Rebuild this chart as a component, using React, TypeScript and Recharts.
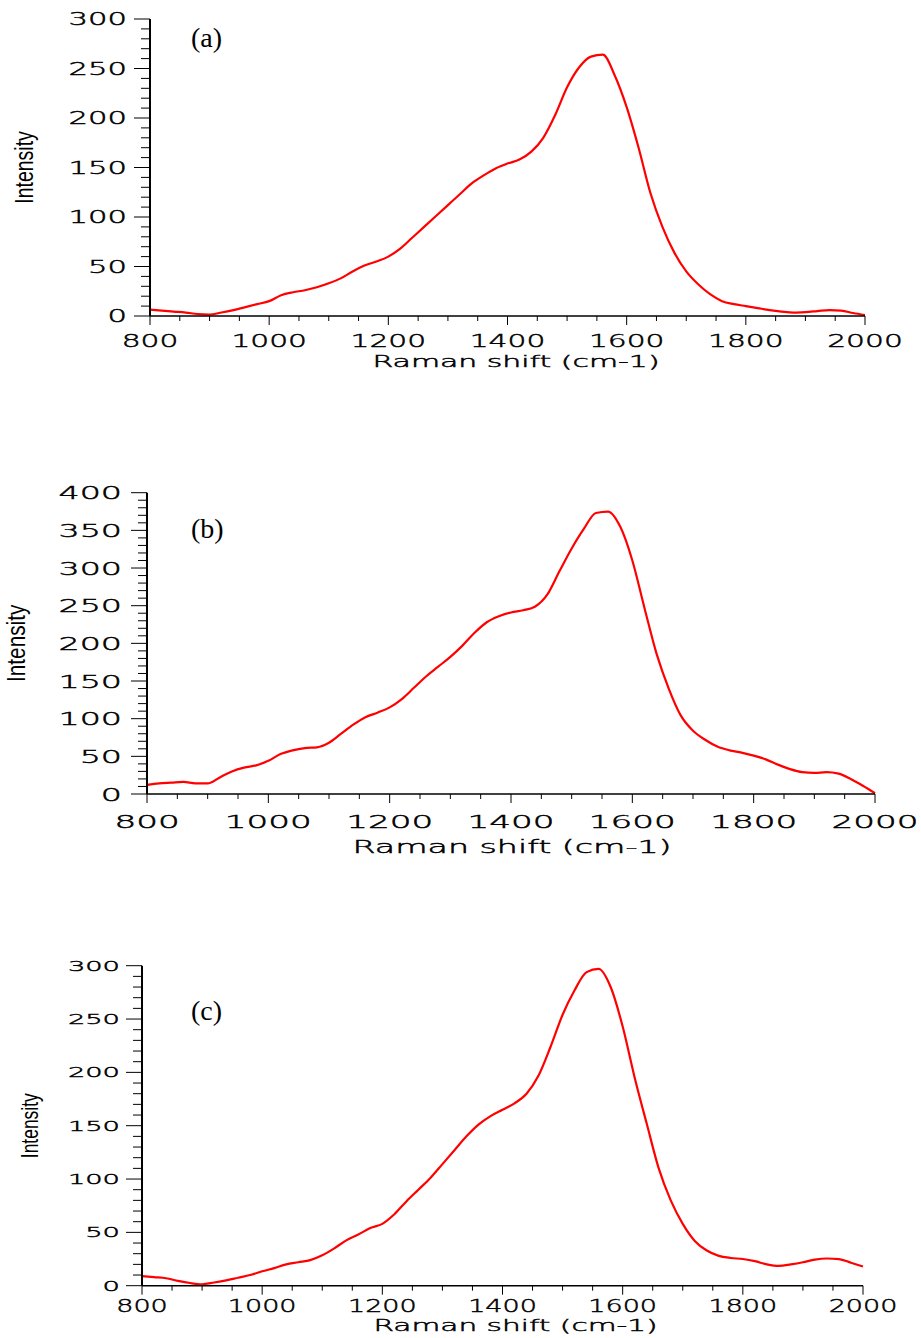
import React from 'react';
import { LineChart, Line, XAxis, YAxis } from 'recharts';

// Raman shift positions (cm-1), shared by all three spectra
const shift = [
  800, 820, 840, 860, 880, 900, 920, 940, 960, 980,
  1000, 1020, 1040, 1060, 1080, 1100, 1120, 1140, 1160, 1180,
  1200, 1220, 1240, 1260, 1280, 1300, 1320, 1340, 1360, 1380,
  1400, 1420, 1440, 1460, 1480, 1500, 1520, 1540, 1560, 1580,
  1600, 1620, 1640, 1660, 1680, 1700, 1720, 1740, 1760, 1780,
  1800, 1820, 1840, 1860, 1880, 1900, 1920, 1940, 1960, 1980,
  2000,
];

const intensityA = [
  6.5, 5.5, 4.5, 3.5, 2, 1.5, 3.5, 6, 9, 12,
  15, 21, 24, 26, 29, 33, 38, 45, 51, 55,
  60, 68, 79, 90, 101, 112, 123, 134, 142, 149,
  154, 158, 166, 180, 203, 231, 251, 262, 264, 243,
  211, 170, 124, 90, 64, 45, 32, 22, 15, 12,
  10, 8, 6, 4.5, 3.5, 4, 5, 6, 5.5, 3,
  1,
];

const intensityB = [
  12, 14, 15, 16, 14, 14, 22, 30, 35, 38,
  44, 53, 58, 61, 62, 68, 80, 92, 102, 108,
  115, 126, 141, 156, 169, 182, 197, 214, 228, 236,
  241, 244, 249, 265, 296, 326, 352, 373, 375, 355,
  310, 247, 186, 140, 104, 84, 72, 63, 58, 55,
  51, 46, 39, 33, 29, 28, 29, 27, 20, 11,
  1,
];

const intensityC = [
  9, 8, 7, 4.5, 2.5, 1.3, 3, 5, 7.5, 10,
  13.5, 16.5, 20, 22, 24, 28.5, 35, 42.5, 48, 54,
  58, 67, 79, 90, 101, 114, 127, 140, 151, 159,
  165, 171, 180, 197, 224, 254, 277, 294, 297, 280,
  243, 195, 152, 110, 80, 58, 42, 33, 28, 26,
  25, 23, 20, 18.5, 20, 22, 24.5, 25.5, 25, 21.5,
  18,
];

const xLabels = [800, 1000, 1200, 1400, 1600, 1800, 2000];
const yLabels300 = [0, 50, 100, 150, 200, 250, 300];
const yLabels400 = [0, 50, 100, 150, 200, 250, 300, 350, 400];

const CHART_W = 921;
const CHART_H = 446;
const TICK_FONT = 'DejaVu Sans, Verdana, sans-serif';

// labelled ticks plus the unlabelled ones in between
const withMinor = (labels: number[], step: number) => {
  const out: number[] = [];
  const last = labels[labels.length - 1];
  for (let v = labels[0]; v <= last + 1e-6; v += step) out.push(Math.round(v));
  return out;
};

// thin, extended lettering used for the numbers and the x title
const wideText = {
  fontFamily: TICK_FONT,
  fontWeight: 200,
  fill: '#000',
  stroke: '#000',
  strokeWidth: 0.45,
};

interface FontSpec {
  size: number;
  sx: number;
  off: number;
}

interface PanelSpec {
  tag: string;
  values: number[];
  yLabels: number[];
  pageTop: number;
  plot: { left: number; right: number; top: number; bottom: number };
  yFont: FontSpec;
  xFont: FontSpec;
  xTitle: FontSpec & { dx: number };
  yTitle: { size: number; sx: number; x: number };
  tagTop: number;
}

const panels: PanelSpec[] = [
  {
    tag: '(a)',
    values: intensityA,
    yLabels: yLabels300,
    pageTop: 0,
    plot: { left: 150, right: 865, top: 19, bottom: 316 },
    yFont: { size: 17, sx: 1.8, off: 23 },
    xFont: { size: 18, sx: 1.65, off: 30.7 },
    xTitle: { size: 15.5, sx: 1.93, off: 51.3, dx: 8.5 },
    yTitle: { size: 25, sx: 0.78, x: 33 },
    tagTop: 24.3,
  },
  {
    tag: '(b)',
    values: intensityB,
    yLabels: yLabels400,
    pageTop: 446,
    plot: { left: 147, right: 875, top: 46.7, bottom: 348 },
    yFont: { size: 18, sx: 1.85, off: 25 },
    xFont: { size: 18, sx: 1.9, off: 34 },
    xTitle: { size: 17.5, sx: 1.9, off: 59.3, dx: 1 },
    yTitle: { size: 25, sx: 0.83, x: 25 },
    tagTop: 514.5 - 446,
  },
  {
    tag: '(c)',
    values: intensityC,
    yLabels: yLabels300,
    pageTop: 892,
    plot: { left: 142, right: 863, top: 73.7, bottom: 393.7 },
    yFont: { size: 14, sx: 1.95, off: 22 },
    xFont: { size: 18, sx: 1.5, off: 26 },
    xTitle: { size: 16, sx: 1.85, off: 45.3, dx: 13 },
    yTitle: { size: 23, sx: 0.76, x: 38 },
    tagTop: 996.5 - 892,
  },
];

const YTick = (props: any) => {
  const { x, y, payload, font } = props;
  const v = payload.value as number;
  const major = v % 50 === 0;
  return (
    <g>
      <line x1={x - (major ? 16 : 9)} x2={x} y1={y} y2={y} stroke="#000" strokeWidth={1} />
      {major && (
        <text
          transform={`translate(${x - font.off},${y + font.size * 0.365}) scale(${font.sx},1)`}
          textAnchor="end"
          fontSize={font.size}
          {...wideText}
        >
          {v}
        </text>
      )}
    </g>
  );
};

const XTick = (props: any) => {
  const { x, y, payload, font } = props;
  const v = payload.value as number;
  const major = v % 200 === 0;
  return (
    <g>
      <line x1={x} x2={x} y1={y} y2={y + (major ? 9 : 5)} stroke="#000" strokeWidth={1} />
      {major && (
        <text
          transform={`translate(${x},${y + font.off}) scale(${font.sx},1)`}
          textAnchor="middle"
          fontSize={font.size}
          {...wideText}
        >
          {v}
        </text>
      )}
    </g>
  );
};

function Panel({ spec }: { spec: PanelSpec }) {
  const { plot } = spec;
  const data = shift.map((s, i) => ({ shift: s, y: spec.values[i] }));
  const yMax = spec.yLabels[spec.yLabels.length - 1];
  const midX = (plot.left + plot.right) / 2;
  const midY = (plot.top + plot.bottom) / 2;

  return (
    <div style={{ position: 'absolute', left: 0, top: spec.pageTop, width: CHART_W, height: CHART_H }}>
      <LineChart
        width={CHART_W}
        height={CHART_H}
        data={data}
        margin={{
          top: plot.top,
          left: plot.left - 60,
          right: CHART_W - plot.right,
          bottom: CHART_H - plot.bottom - 40,
        }}
      >
        <XAxis
          dataKey="shift"
          type="number"
          domain={[800, 2000]}
          ticks={withMinor(xLabels, 50)}
          interval={0}
          height={40}
          tickSize={0}
          tickMargin={0}
          tickLine={false}
          axisLine={{ stroke: '#000', strokeWidth: 1.5 }}
          tick={(p: any) => <XTick {...p} font={spec.xFont} />}
          label={() => (
            <text
              transform={`translate(${midX + spec.xTitle.dx},${plot.bottom + spec.xTitle.off}) scale(${spec.xTitle.sx},1)`}
              textAnchor="middle"
              fontSize={spec.xTitle.size}
              {...wideText}
            >
              Raman shift (cm-1)
            </text>
          )}
        />
        <YAxis
          type="number"
          domain={[0, yMax]}
          ticks={withMinor(spec.yLabels, 10)}
          interval={0}
          width={60}
          tickSize={0}
          tickMargin={0}
          tickLine={false}
          axisLine={{ stroke: '#000', strokeWidth: 2 }}
          tick={(p: any) => <YTick {...p} font={spec.yFont} />}
          label={() => (
            <text
              transform={`translate(${spec.yTitle.x},${midY}) rotate(-90) scale(${spec.yTitle.sx},1)`}
              textAnchor="middle"
              fontFamily="Liberation Sans, Arial, sans-serif"
              fontSize={spec.yTitle.size}
              fill="#000"
            >
              Intensity
            </text>
          )}
        />
        <Line
          dataKey="y"
          type="monotone"
          stroke="#ff0000"
          strokeWidth={2.2}
          dot={false}
          isAnimationActive={false}
        />
      </LineChart>
      <div
        style={{
          position: 'absolute',
          left: 191,
          top: spec.tagTop,
          fontFamily: 'Liberation Serif, Times New Roman, serif',
          fontSize: 28,
          lineHeight: '28px',
          color: '#000',
        }}
      >
        {spec.tag}
      </div>
    </div>
  );
}

export default function App() {
  return (
    <div style={{ position: 'absolute', left: 0, top: 0, width: 921, height: 1338, background: '#fff' }}>
      {panels.map((p) => (
        <Panel key={p.tag} spec={p} />
      ))}
    </div>
  );
}
